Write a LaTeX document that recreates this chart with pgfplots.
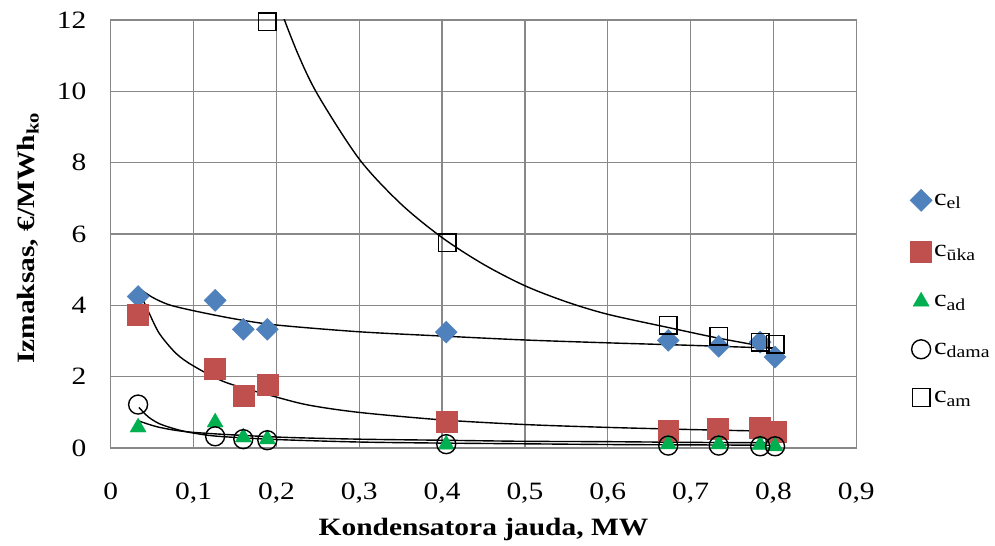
\documentclass[border=0pt]{standalone}
\usepackage{fontspec}
\setmainfont{Liberation Serif}[FakeStretch=1.18]
\usepackage{pgfplots}
\pgfplotsset{compat=1.18}

\definecolor{cel}{HTML}{4F81BD}
\definecolor{cuka}{HTML}{C0504D}
\definecolor{cad}{HTML}{00B050}
\definecolor{gridc}{HTML}{888888}

\newcommand{\labfont}{\fontsize{25}{30}\selectfont}

\begin{document}
\begin{tikzpicture}
\begin{axis}[
  name=ax,
  scale only axis,
  width=747pt, height=429pt,
  xmin=0, xmax=0.9, ymin=0, ymax=12,
  xtick={0,0.1,0.2,0.3,0.4,0.5,0.6,0.7,0.8,0.9},
  ytick={0,2,4,6,8,10,12},
  grid=major,
  major grid style={gridc, line width=1.3pt},
  axis line style={gridc, line width=1.3pt},
  major tick length=0pt,
  /pgf/number format/assume math mode=true,
  /pgf/number format/use comma,
  /pgf/number format/fixed,
  xticklabel style={font=\labfont, yshift=-31pt},
  yticklabel style={font=\labfont, xshift=-21pt},
  xlabel={\textbf{Kondensatora jauda, MW}},
  ylabel={\textbf{Izmaksas, €/MWh\textsubscript{ko}}},
  xlabel style={font=\labfont, at={(axis description cs:0.5,-0.2051)}, anchor=base},
  ylabel style={font=\labfont, at={(axis description cs:-0.1017,0.49)}, anchor=base},
  legend style={draw=none, fill=none, font=\fontsize{24}{28}\selectfont,
    at={(axis description cs:1.068,0.351)}, anchor=west,
    row sep=30pt, legend cell align=left,
    /tikz/every even column/.append style={column sep=4pt}},
  clip=true,
]
% data points
\addplot[only marks, mark=square*, mark size=7.8pt,
  mark options={rotate=45, fill=cel, draw=cel}]
  coordinates {(0.033,4.25) (0.126,4.14) (0.160,3.33) (0.189,3.33) (0.405,3.25)
               (0.673,3.02) (0.734,2.85) (0.784,2.97) (0.802,2.55)};
\addlegendentry{c\textsubscript{el}}
\addplot[only marks, mark=square*, mark size=10.5pt,
  mark options={fill=cuka, draw=cuka}]
  coordinates {(0.033,3.75) (0.125,2.23) (0.160,1.48) (0.189,1.79) (0.405,0.75)
               (0.673,0.48) (0.733,0.55) (0.783,0.58) (0.803,0.45)};
\addlegendentry{c\textsubscript{ūka}}
\addplot[only marks, mark=triangle*, mark size=9.3pt,
  mark options={fill=cad, draw=cad}]
  coordinates {(0.033,0.58) (0.126,0.72) (0.160,0.30) (0.189,0.25) (0.405,0.10)
               (0.673,0.11) (0.734,0.11) (0.784,0.09) (0.802,0.05)};
\addlegendentry{c\textsubscript{ad}}
\addplot[only marks, mark=o, mark size=9.5pt,
  mark options={draw=black, line width=1.4pt}]
  coordinates {(0.033,1.22) (0.126,0.33) (0.160,0.25) (0.189,0.22) (0.405,0.11)
               (0.673,0.07) (0.734,0.07) (0.784,0.05) (0.802,0.05)};
\addlegendentry{c\textsubscript{dama}}
\addplot[only marks, mark=square, mark size=8.8pt,
  mark options={draw=black, line width=1.4pt}]
  coordinates {(0.189,11.95) (0.406,5.76) (0.673,3.44) (0.734,3.14)
               (0.784,2.97) (0.802,2.91)};
\addlegendentry{c\textsubscript{am}}

% trend lines
\addplot[forget plot, black, line width=1.4pt, smooth] coordinates {
  (0.034,4.48) (0.05,4.23) (0.07,4.02) (0.1,3.85) (0.15,3.62) (0.2,3.45)
  (0.3,3.26) (0.4,3.14) (0.5,3.03) (0.6,2.95) (0.7,2.88) (0.8,2.80)};
\addplot[forget plot, black, line width=1.4pt, smooth] coordinates {
  (0.034,4.45) (0.04,4.1) (0.047,3.75) (0.059,3.2) (0.079,2.65) (0.1,2.3)
  (0.139,1.84) (0.2,1.43) (0.24,1.2) (0.3,1.0) (0.4,0.79) (0.5,0.66)
  (0.6,0.58) (0.7,0.52) (0.8,0.47)};
\addplot[forget plot, black, line width=1.4pt, smooth] coordinates {
  (0.034,0.76) (0.059,0.58) (0.1,0.44) (0.2,0.31) (0.3,0.25) (0.4,0.22)
  (0.5,0.19) (0.6,0.18) (0.7,0.16) (0.8,0.15)};
\addplot[forget plot, black, line width=1.4pt, smooth] coordinates {
  (0.034,1.14) (0.045,0.88) (0.059,0.68) (0.08,0.52) (0.1,0.42) (0.13,0.33)
  (0.2,0.24) (0.3,0.17) (0.4,0.14) (0.5,0.12) (0.6,0.10) (0.7,0.09) (0.8,0.08)};
\addplot[forget plot, black, line width=1.4pt, smooth] coordinates {
  (0.19,13.3) (0.2,12.6) (0.225,11.1) (0.25,9.9) (0.3,8.1) (0.35,6.85)
  (0.4,5.9) (0.45,5.15) (0.5,4.55) (0.55,4.1) (0.6,3.75) (0.673,3.38)
  (0.734,3.08) (0.8,2.8)};
\end{axis}
\path (ax.south west) ++(-111pt,-98pt) rectangle ++(995pt,547pt);
\end{tikzpicture}
\end{document}
